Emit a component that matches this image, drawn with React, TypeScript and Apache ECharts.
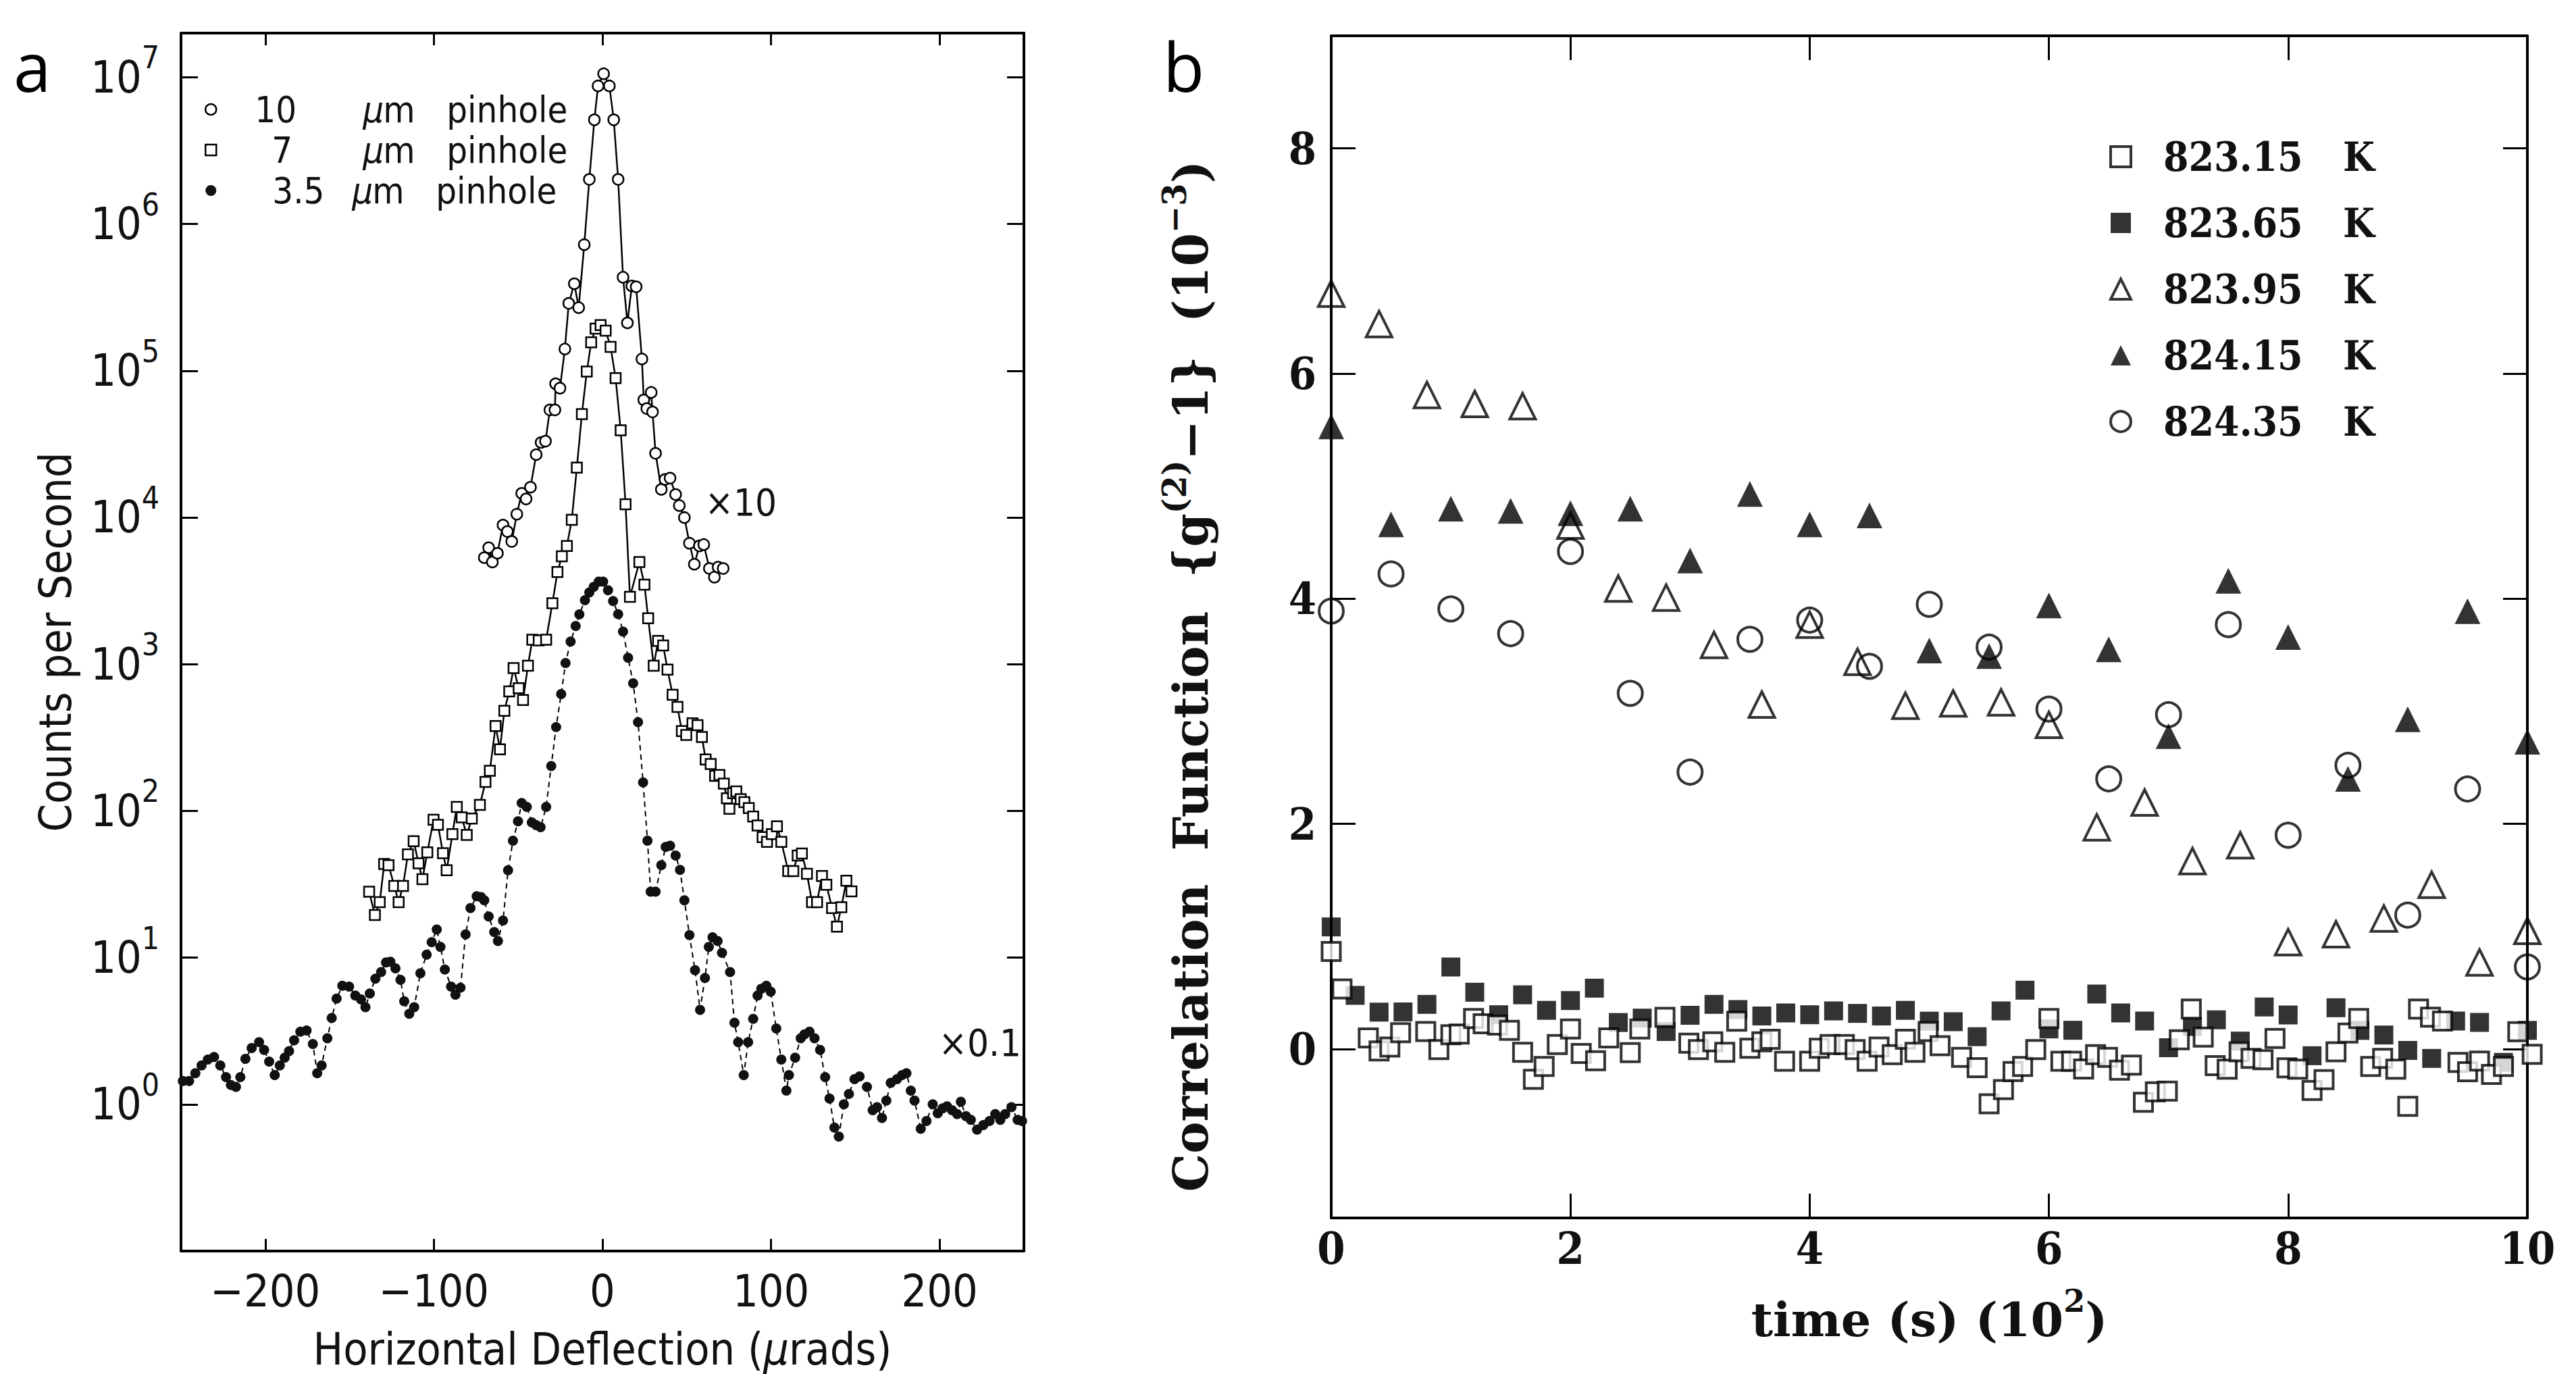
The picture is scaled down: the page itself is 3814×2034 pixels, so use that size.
import React, { useEffect, useRef } from 'react';
import * as echarts from 'echarts';

const W = 3814;
const H = 2034;

// ---------------- Panel a : counts per second vs horizontal deflection ----------------
// values are stored as log10(counts per second)
const pin10X = [-70.1, -67.5, -65.3, -62.3, -59.0, -56.4, -53.8, -50.8, -47.9, -45.3, -42.7, -39.3, -36.4, -33.8, -31.2, -28.2, -27.8, -25.2, -22.3, -20.0, -16.7, -14.1, -10.8, -7.8, -4.8, -2.6, 0.7, 4.1, 6.7, 9.3, 12.2, 14.8, 17.4, 20.0, 23.4, 24.5, 26.3, 28.9, 29.7, 31.5, 34.9, 37.1, 40.1, 43.4, 45.6, 48.6, 51.6, 54.5, 57.5, 60.1, 63.4, 66.4, 68.6, 71.6];
const pin10Log = [3.726, 3.794, 3.696, 3.756, 3.948, 3.904, 3.836, 4.022, 4.164, 4.126, 4.206, 4.428, 4.511, 4.520, 4.733, 4.733, 4.911, 4.881, 5.148, 5.459, 5.593, 5.430, 5.859, 6.304, 6.710, 6.941, 7.024, 6.941, 6.710, 6.304, 5.637, 5.326, 5.578, 5.572, 5.080, 4.801, 4.742, 4.852, 4.719, 4.437, 4.191, 4.259, 4.268, 4.156, 4.081, 3.999, 3.824, 3.681, 3.806, 3.815, 3.652, 3.593, 3.661, 3.652];

const pin7X = [-138.4, -135.0, -132.1, -129.5, -126.9, -123.5, -120.9, -118.3, -115.4, -112.0, -109.1, -106.8, -103.9, -100.2, -97.6, -94.6, -92.4, -89.0, -86.4, -83.5, -80.5, -77.5, -72.7, -69.4, -66.8, -63.4, -60.8, -58.2, -55.3, -52.7, -49.7, -47.1, -44.2, -41.6, -37.8, -33.4, -29.7, -26.7, -24.1, -21.1, -18.2, -15.2, -12.2, -9.3, -6.7, -4.1, -1.1, 1.9, 4.8, 7.8, 10.8, 13.7, 16.3, 21.9, 24.9, 27.1, 30.4, 33.0, 36.0, 38.6, 41.6, 44.5, 47.1, 49.7, 53.4, 56.4, 59.0, 61.2, 64.2, 66.8, 69.4, 72.0, 73.8, 75.3, 77.5, 79.4, 82.0, 84.2, 86.8, 89.4, 92.0, 95.0, 97.6, 100.5, 103.5, 106.1, 110.2, 113.2, 115.8, 118.3, 121.3, 124.3, 127.3, 130.2, 132.8, 136.2, 139.1, 141.7, 144.7, 147.7];
const pin7Log = [1.449, 1.290, 1.378, 1.638, 1.630, 1.489, 1.378, 1.489, 1.704, 1.794, 1.643, 1.534, 1.717, 1.940, 1.905, 1.712, 1.595, 1.842, 2.027, 1.956, 1.836, 1.948, 2.041, 2.197, 2.274, 2.579, 2.420, 2.682, 2.814, 2.973, 2.836, 2.756, 2.989, 3.167, 3.162, 3.167, 3.415, 3.628, 3.735, 3.806, 3.984, 4.339, 4.704, 4.994, 5.193, 5.287, 5.311, 5.273, 5.163, 4.950, 4.594, 4.090, 3.459, 3.696, 3.542, 3.313, 2.989, 3.159, 3.127, 2.963, 2.791, 2.708, 2.544, 2.518, 2.597, 2.584, 2.504, 2.351, 2.319, 2.239, 2.245, 2.186, 2.086, 2.014, 2.120, 2.133, 2.080, 2.059, 2.019, 1.961, 1.900, 1.821, 1.789, 1.842, 1.895, 1.789, 1.590, 1.590, 1.696, 1.709, 1.571, 1.378, 1.378, 1.556, 1.497, 1.338, 1.211, 1.343, 1.524, 1.452];

const pin35X = [-248.9, -245.2, -241.5, -237.8, -234.1, -230.4, -226.7, -223.3, -220.4, -217.4, -214.8, -211.8, -208.1, -203.7, -200.7, -197.7, -194.4, -191.4, -188.5, -185.9, -182.9, -179.2, -175.5, -171.8, -169.2, -166.6, -163.2, -160.6, -157.7, -154.3, -150.3, -146.6, -143.2, -140.6, -138.0, -134.7, -131.3, -128.4, -125.8, -122.8, -119.8, -117.6, -114.6, -111.7, -108.0, -104.3, -101.3, -98.3, -96.1, -93.5, -89.8, -87.2, -84.2, -81.2, -78.3, -74.6, -72.0, -70.1, -67.5, -64.2, -62.0, -59.0, -56.0, -53.1, -50.1, -47.9, -44.9, -41.9, -39.3, -36.7, -33.4, -30.4, -27.5, -24.5, -21.9, -18.9, -15.9, -13.7, -10.4, -7.8, -5.2, -2.2, 0.4, 3.3, 6.3, 9.3, 12.2, 15.2, 18.2, 21.1, 24.1, 26.7, 28.6, 31.5, 34.9, 37.5, 40.1, 43.4, 46.0, 48.6, 51.6, 54.9, 57.9, 60.8, 63.1, 65.3, 68.3, 70.9, 75.7, 78.3, 80.5, 83.8, 86.4, 89.4, 92.0, 94.2, 97.2, 99.8, 103.1, 106.1, 109.1, 110.6, 114.3, 117.6, 119.8, 122.8, 125.8, 129.1, 132.1, 134.7, 137.6, 140.2, 143.2, 146.2, 149.5, 152.5, 156.9, 160.3, 162.9, 165.8, 168.4, 171.0, 174.7, 177.7, 180.3, 182.9, 185.1, 188.8, 192.2, 195.9, 198.9, 201.8, 204.4, 207.4, 210.4, 212.6, 215.6, 218.5, 222.2, 225.9, 229.6, 233.0, 236.0, 238.9, 242.6, 246.3, 248.9];
const pin35Log = [0.159, 0.159, 0.212, 0.265, 0.305, 0.323, 0.265, 0.185, 0.132, 0.119, 0.185, 0.310, 0.384, 0.424, 0.371, 0.291, 0.199, 0.265, 0.318, 0.363, 0.437, 0.495, 0.503, 0.411, 0.212, 0.265, 0.450, 0.588, 0.721, 0.808, 0.803, 0.742, 0.715, 0.662, 0.755, 0.856, 0.901, 0.967, 0.972, 0.927, 0.848, 0.702, 0.617, 0.662, 0.893, 1.020, 1.105, 1.192, 1.073, 0.919, 0.803, 0.747, 0.795, 1.158, 1.338, 1.418, 1.412, 1.391, 1.280, 1.174, 1.113, 1.253, 1.595, 1.797, 1.929, 2.054, 2.027, 1.921, 1.903, 1.889, 2.027, 2.306, 2.571, 2.796, 3.008, 3.154, 3.260, 3.339, 3.436, 3.489, 3.527, 3.563, 3.563, 3.504, 3.430, 3.341, 3.222, 3.044, 2.870, 2.605, 2.194, 1.797, 1.449, 1.449, 1.630, 1.754, 1.762, 1.696, 1.598, 1.391, 1.153, 0.914, 0.644, 0.861, 1.073, 1.139, 1.113, 1.033, 0.901, 0.556, 0.424, 0.199, 0.424, 0.583, 0.742, 0.787, 0.808, 0.768, 0.517, 0.305, 0.093, 0.199, 0.318, 0.450, 0.477, 0.495, 0.450, 0.371, 0.185, 0.039, -0.159, -0.220, 0.000, 0.071, 0.172, 0.190, 0.119, -0.040, -0.019, -0.093, 0.026, 0.146, 0.172, 0.199, 0.212, 0.093, 0.026, -0.167, -0.114, 0.000, -0.061, -0.027, -0.014, -0.040, -0.067, 0.018, -0.080, -0.106, -0.173, -0.141, -0.114, -0.067, -0.106, -0.067, -0.019, -0.106, -0.114];

const aXTicks = [-200, -100, 0, 100, 200];
const aYTicks = [0, 1, 2, 3, 4, 5, 6, 7]; // powers of ten

// ---------------- Panel b : correlation function vs time ----------------
const sq2315X = [0.00, 0.09, 0.31, 0.40, 0.49, 0.58, 0.79, 0.90, 1.00, 1.07, 1.19, 1.27, 1.39, 1.49, 1.60, 1.69, 1.78, 1.89, 2.00, 2.09, 2.21, 2.32, 2.50, 2.58, 2.79, 2.99, 3.07, 3.19, 3.29, 3.39, 3.50, 3.60, 3.67, 3.79, 4.00, 4.08, 4.17, 4.29, 4.38, 4.48, 4.58, 4.69, 4.80, 4.88, 4.99, 5.09, 5.27, 5.40, 5.50, 5.62, 5.70, 5.78, 5.89, 6.00, 6.10, 6.19, 6.29, 6.39, 6.49, 6.59, 6.69, 6.79, 6.89, 6.99, 7.09, 7.19, 7.29, 7.39, 7.49, 7.59, 7.69, 7.79, 7.89, 7.99, 8.08, 8.20, 8.30, 8.40, 8.50, 8.59, 8.69, 8.79, 8.90, 9.00, 9.09, 9.19, 9.29, 9.42, 9.50, 9.60, 9.70, 9.80, 9.92, 10.04];
const sq2315Y = [0.867, 0.534, 0.099, -0.016, 0.018, 0.145, 0.156, -0.005, 0.128, 0.133, 0.271, 0.225, 0.213, 0.167, -0.028, -0.268, -0.154, 0.041, 0.179, -0.039, -0.103, 0.099, -0.032, 0.179, 0.282, 0.053, -0.005, 0.064, -0.028, 0.248, 0.007, 0.064, 0.087, -0.108, -0.108, 0.007, 0.041, 0.041, -0.005, -0.108, 0.018, -0.05, 0.087, -0.028, 0.156, 0.030, -0.073, -0.165, -0.486, -0.360, -0.200, -0.154, -0.005, 0.271, -0.108, -0.108, -0.177, -0.05, -0.073, -0.188, -0.142, -0.473, -0.379, -0.374, 0.083, 0.355, 0.107, -0.147, -0.178, -0.024, -0.083, -0.095, 0.095, -0.166, -0.178, -0.367, -0.272, -0.024, 0.142, 0.272, -0.154, -0.083, -0.178, -0.509, 0.355, 0.284, 0.249, -0.118, -0.201, -0.107, -0.225, -0.154, 0.154, -0.047];

const sq2365X = [0, 0.2, 0.4, 0.6, 0.8, 1.0, 1.2, 1.4, 1.6, 1.8, 2.0, 2.2, 2.4, 2.6, 2.8, 3.0, 3.2, 3.4, 3.6, 3.8, 4.0, 4.2, 4.4, 4.6, 4.8, 5.0, 5.2, 5.4, 5.6, 5.8, 6.0, 6.2, 6.4, 6.6, 6.8, 7.0, 7.2, 7.4, 7.6, 7.8, 8.0, 8.2, 8.4, 8.6, 8.8, 9.0, 9.2, 9.4, 9.6, 9.8, 10.0];
const sq2365Y = [1.085, 0.477, 0.328, 0.33, 0.397, 0.729, 0.505, 0.305, 0.482, 0.344, 0.431, 0.541, 0.236, 0.275, 0.156, 0.30, 0.397, 0.351, 0.294, 0.321, 0.305, 0.339, 0.317, 0.294, 0.344, 0.248, 0.243, 0.110, 0.339, 0.523, 0.179, 0.167, 0.489, 0.321, 0.249, 0.012, 0.201, 0.26, 0.071, 0.374, 0.303, -0.059, 0.367, 0.166, 0.125, -0.012, -0.083, 0.249, 0.237, -0.118, 0.166];

const tri2395X = [0, 0.4, 0.8, 1.2, 1.6, 2.0, 2.4, 2.8, 3.2, 3.6, 4.0, 4.4, 4.8, 5.2, 5.6, 6.0, 6.4, 6.8, 7.2, 7.6, 8.0, 8.4, 8.8, 9.2, 9.6, 10.0];
const tri2395Y = [6.71, 6.44, 5.81, 5.73, 5.71, 4.65, 4.09, 4.01, 3.59, 3.06, 3.77, 3.44, 3.05, 3.07, 3.08, 2.88, 1.97, 2.19, 1.67, 1.81, 0.95, 1.02, 1.16, 1.46, 0.77, 1.05];

const tri2415X = [0, 0.5, 1.0, 1.5, 2.0, 2.5, 3.0, 3.5, 4.0, 4.5, 5.0, 5.5, 6.0, 6.5, 7.0, 7.5, 8.0, 8.5, 9.0, 9.5, 10.0];
const tri2415Y = [5.53, 4.66, 4.80, 4.78, 4.76, 4.80, 4.34, 4.93, 4.66, 4.74, 3.54, 3.49, 3.94, 3.55, 2.78, 4.16, 3.66, 2.40, 2.93, 3.89, 2.73];

const circ2435X = [0, 0.5, 1.0, 1.5, 2.0, 2.5, 3.0, 3.5, 4.0, 4.5, 5.0, 5.5, 6.0, 6.5, 7.0, 7.5, 8.0, 8.5, 9.0, 9.5, 10.0];
const circ2435Y = [3.89, 4.22, 3.91, 3.69, 4.42, 3.16, 2.46, 3.64, 3.81, 3.40, 3.95, 3.57, 3.02, 2.40, 2.97, 3.77, 1.90, 2.52, 1.19, 2.31, 0.73];

const bYTicks = [0, 2, 4, 6, 8];

const legendA = ['10 μm pinhole', '7 μm pinhole', '3.5 μm pinhole'];
const legendB = ['823.15 K', '823.65 K', '823.95 K', '824.15 K', '824.35 K'];

const zip = (xs: number[], ys: number[]) => {
  const n = Math.min(xs.length, ys.length);
  const out: number[][] = [];
  for (let i = 0; i < n; i++) out.push([xs[i], ys[i]]);
  return out;
};

const SANS = "'Liberation Sans Narrow', 'DejaVu Sans Condensed', 'Liberation Sans', sans-serif";
const SERIF = "'DejaVu Serif Condensed', 'DejaVu Serif', 'Liberation Serif', serif";
const SERIF_W = "'DejaVu Serif', 'Liberation Serif', serif";
const INK = '#111';

function buildOption(): any {
  const frame = { show: true, onZero: false, lineStyle: { color: '#000', width: 4 } };
  const aTxt = { fontFamily: SANS, fontSize: 66, lineHeight: 66, color: INK };
  const bTxt = { fontFamily: SERIF, fontWeight: 'bold', fontSize: 66, lineHeight: 66, color: INK };
  const bTitle = { fontFamily: SERIF_W, fontWeight: 'bold', fontSize: 70, color: INK };
  const yTitle = { fontFamily: SERIF_W, fontWeight: 'bold', fontSize: 71, color: INK };

  const aLegendFmt: Record<string, string> = {
    '10 μm pinhole': '{s1| }{n1|10}{mu|μ}{m|m}{r|pinhole}',
    '7 μm pinhole': '{s2| }{n2|7}{mu|μ}{m|m}{r|pinhole}',
    '3.5 μm pinhole': '{s3| }{n3|3.5}{mu|μ}{m|m}{r|pinhole}',
  };
  const lt = { fontFamily: SANS, fontSize: 54, lineHeight: 54, color: INK };

  return {
    animation: false,
    backgroundColor: '#fff',
    grid: [
      { left: 268, top: 49, width: 1248, height: 1803, containLabel: false, outerBoundsMode: 'none' },
      { left: 1971, top: 53, width: 1771, height: 1750, containLabel: false, outerBoundsMode: 'none' },
    ],
    xAxis: [
      {
        type: 'value', gridIndex: 0, position: 'bottom', min: -250, max: 250,
        axisLine: frame,
        axisTick: { show: true, inside: true, length: 18, customValues: aXTicks, lineStyle: { color: '#000', width: 3 } },
        axisLabel: { show: true, customValues: aXTicks, margin: 26, ...aTxt, formatter: (v: number) => (v < 0 ? '\u2212' + -v : String(v)) },
        splitLine: { show: false },
        name: 'Horizontal Deflection ({i|μ}rads)', nameLocation: 'middle', nameGap: 112, nameMoveOverlap: false,
        nameTextStyle: { ...aTxt, rich: { i: { ...aTxt, fontStyle: 'italic' } } },
      },
      {
        type: 'value', gridIndex: 0, position: 'top', min: -250, max: 250,
        axisLine: frame,
        axisTick: { show: true, inside: true, length: 18, customValues: aXTicks, lineStyle: { color: '#000', width: 3 } },
        axisLabel: { show: false }, splitLine: { show: false },
      },
      {
        type: 'value', gridIndex: 1, position: 'bottom', min: 0, max: 10, interval: 2,
        axisLine: frame,
        axisTick: { show: true, inside: true, length: 36, lineStyle: { color: '#000', width: 3 } },
        axisLabel: { show: true, margin: 12, ...bTxt },
        splitLine: { show: false },
        name: 'time (s) (10{sup|2})', nameLocation: 'middle', nameGap: 100, nameMoveOverlap: false,
        nameTextStyle: { ...bTitle, lineHeight: 100, rich: { sup: { ...bTitle, fontSize: 46, lineHeight: 46, verticalAlign: 'top' } } },
      },
      {
        type: 'value', gridIndex: 1, position: 'top', min: 0, max: 10, interval: 2,
        axisLine: frame,
        axisTick: { show: true, inside: true, length: 36, lineStyle: { color: '#000', width: 3 } },
        axisLabel: { show: false }, splitLine: { show: false },
      },
    ],
    yAxis: [
      {
        type: 'value', gridIndex: 0, position: 'left', min: -1, max: 7.30103,
        axisLine: frame,
        axisTick: { show: true, inside: true, length: 25, customValues: aYTicks, lineStyle: { color: '#000', width: 3 } },
        axisLabel: {
          show: true, customValues: aYTicks, margin: 32,
          formatter: (v: number) => '{b|10}{s|' + Math.round(v) + '}',
          rich: {
            b: { fontFamily: SANS, fontSize: 66, lineHeight: 104, color: INK },
            s: { fontFamily: SANS, fontSize: 46, lineHeight: 46, color: INK, verticalAlign: 'top' },
          },
        },
        splitLine: { show: false },
        name: 'Counts per Second', nameLocation: 'middle', nameGap: 153, nameRotate: 90, nameMoveOverlap: false,
        nameTextStyle: aTxt,
      },
      {
        type: 'value', gridIndex: 0, position: 'right', min: -1, max: 7.30103,
        axisLine: frame,
        axisTick: { show: true, inside: true, length: 25, customValues: aYTicks, lineStyle: { color: '#000', width: 3 } },
        axisLabel: { show: false }, splitLine: { show: false },
      },
      {
        type: 'value', gridIndex: 1, position: 'left', min: -1.5, max: 9,
        axisLine: frame,
        axisTick: { show: true, inside: true, length: 36, customValues: bYTicks, lineStyle: { color: '#000', width: 3 } },
        axisLabel: { show: true, customValues: bYTicks, margin: 22, ...bTxt },
        splitLine: { show: false },
        name: 'Correlation  Function  {g{sup|(2)}\u22121}  (10{sup|\u22123})', nameLocation: 'middle', nameGap: 160, nameRotate: 90, nameMoveOverlap: false,
        nameTextStyle: { ...yTitle, lineHeight: 96, padding: [0, 146, 0, 0], rich: { sup: { ...yTitle, fontSize: 48, lineHeight: 48, verticalAlign: 'top' } } },
      },
      {
        type: 'value', gridIndex: 1, position: 'right', min: -1.5, max: 9,
        axisLine: frame,
        axisTick: { show: true, inside: true, length: 36, customValues: bYTicks, lineStyle: { color: '#000', width: 3 } },
        axisLabel: { show: false }, splitLine: { show: false },
      },
    ],
    legend: [
      {
        orient: 'vertical', left: 303, top: 135, padding: 0, itemWidth: 16, itemHeight: 16, itemGap: 6,
        selectedMode: false,
        data: [
          { name: legendA[0], icon: 'circle', itemStyle: { color: '#fff', borderColor: '#000', borderWidth: 2.5 } },
          { name: legendA[1], icon: 'rect', itemStyle: { color: '#fff', borderColor: '#000', borderWidth: 2.5 } },
          { name: legendA[2], icon: 'circle', itemStyle: { color: '#111', borderWidth: 0 } },
        ],
        formatter: (name: string) => aLegendFmt[name] || name,
        textStyle: {
          ...lt,
          rich: {
            s1: { ...lt, width: 52 }, s2: { ...lt, width: 77 }, s3: { ...lt, width: 78 },
            n1: { ...lt, width: 160 }, n2: { ...lt, width: 135 }, n3: { ...lt, width: 118 },
            mu: { ...lt, fontStyle: 'italic', width: 30 }, m: { ...lt, width: 94 }, r: { ...lt },
          },
        },
      },
      {
        orient: 'vertical', left: 3123, top: 202, padding: 0, itemWidth: 30, itemHeight: 30, itemGap: 38,
        selectedMode: false,
        data: [
          { name: legendB[0], icon: 'rect', itemStyle: { color: '#fff', borderColor: '#000', borderWidth: 4 } },
          { name: legendB[1], icon: 'rect', itemStyle: { color: '#000', borderWidth: 0 } },
          { name: legendB[2], icon: 'triangle', itemStyle: { color: '#fff', borderColor: '#000', borderWidth: 4 } },
          { name: legendB[3], icon: 'triangle', itemStyle: { color: '#000', borderWidth: 0 } },
          { name: legendB[4], icon: 'circle', itemStyle: { color: '#fff', borderColor: '#000', borderWidth: 4 } },
        ],
        formatter: (name: string) => '{sp| }{v|' + name.replace(' K', '') + '}{k|K}',
        textStyle: {
          fontFamily: SERIF, fontWeight: 'bold', fontSize: 60, lineHeight: 60, color: INK,
          rich: {
            sp: { fontSize: 60, lineHeight: 60, width: 43 },
            v: { fontFamily: SERIF, fontWeight: 'bold', fontSize: 60, lineHeight: 60, color: INK, width: 266 },
            k: { fontFamily: SERIF, fontWeight: 'bold', fontSize: 60, lineHeight: 60, color: INK },
          },
        },
      },
    ],
    series: [
      {
        type: 'line', name: legendA[0], xAxisIndex: 0, yAxisIndex: 0, data: zip(pin10X, pin10Log),
        symbol: 'circle', symbolSize: 16, showSymbol: true, showAllSymbol: true,
        lineStyle: { color: '#000', width: 2.5 }, itemStyle: { color: '#fff', borderColor: '#000', borderWidth: 2.5 }, z: 3,
      },
      {
        type: 'line', name: legendA[1], xAxisIndex: 0, yAxisIndex: 0, data: zip(pin7X, pin7Log),
        symbol: 'rect', symbolSize: 15, showSymbol: true, showAllSymbol: true,
        lineStyle: { color: '#000', width: 2.5 }, itemStyle: { color: '#fff', borderColor: '#000', borderWidth: 2.5 }, z: 3,
      },
      {
        type: 'line', name: legendA[2], xAxisIndex: 0, yAxisIndex: 0, data: zip(pin35X, pin35Log),
        symbol: 'circle', symbolSize: 15, showSymbol: true, showAllSymbol: true,
        lineStyle: { color: '#000', width: 2, type: [8, 6] }, itemStyle: { color: '#111' }, z: 3,
      },
      {
        type: 'scatter', name: legendB[4], xAxisIndex: 2, yAxisIndex: 2, data: zip(circ2435X, circ2435Y),
        symbol: 'circle', symbolSize: 36, itemStyle: { color: 'rgba(255,255,255,0)', borderColor: '#000', borderWidth: 4 }, z: 2, clip: false,
      },
      {
        type: 'scatter', name: legendB[2], xAxisIndex: 2, yAxisIndex: 2, data: zip(tri2395X, tri2395Y),
        symbol: 'triangle', symbolSize: 38, itemStyle: { color: 'rgba(255,255,255,0)', borderColor: '#000', borderWidth: 4 }, z: 3, clip: false,
      },
      {
        type: 'scatter', name: legendB[3], xAxisIndex: 2, yAxisIndex: 2, data: zip(tri2415X, tri2415Y),
        symbol: 'triangle', symbolSize: 38, itemStyle: { color: '#000' }, z: 4, clip: false,
      },
      {
        type: 'scatter', name: legendB[1], xAxisIndex: 2, yAxisIndex: 2, data: zip(sq2365X, sq2365Y),
        symbol: 'rect', symbolSize: 28, itemStyle: { color: '#000' }, z: 3, clip: false,
      },
      {
        type: 'scatter', name: legendB[0], xAxisIndex: 2, yAxisIndex: 2, data: zip(sq2315X, sq2315Y),
        symbol: 'rect', symbolSize: 27, itemStyle: { color: '#fff', borderColor: '#000', borderWidth: 4 }, z: 4, clip: false,
      },
    ],
    graphic: [
      { type: 'text', x: 20, y: 97, style: { text: 'a', fontFamily: "'Open Sans', 'Noto Sans', sans-serif", fontSize: 100, fill: '#000', verticalAlign: 'middle', align: 'left' } },
      { type: 'text', x: 1722, y: 97, style: { text: 'b', fontFamily: "'Open Sans', 'Noto Sans', sans-serif", fontSize: 100, fill: '#000', verticalAlign: 'middle', align: 'left' } },
      { type: 'text', x: 1097, y: 743, style: { text: '\u00d710', fontFamily: SANS, fontSize: 56, fill: INK, verticalAlign: 'middle', align: 'center' } },
      { type: 'text', x: 1451, y: 1543, style: { text: '\u00d70.1', fontFamily: SANS, fontSize: 56, fill: INK, verticalAlign: 'middle', align: 'center' } },
    ],
  };
}

export default function App() {
  const ref = useRef<HTMLDivElement>(null);
  useEffect(() => {
    if (!ref.current) return;
    const chart = echarts.init(ref.current, null, { renderer: 'svg', width: W, height: H });
    chart.setOption(buildOption());
    return () => chart.dispose();
  }, []);
  return (
    <div
      ref={ref}
      style={{ position: 'absolute', left: 0, top: 0, width: W + 'px', height: H + 'px', background: '#fff' }}
    />
  );
}
